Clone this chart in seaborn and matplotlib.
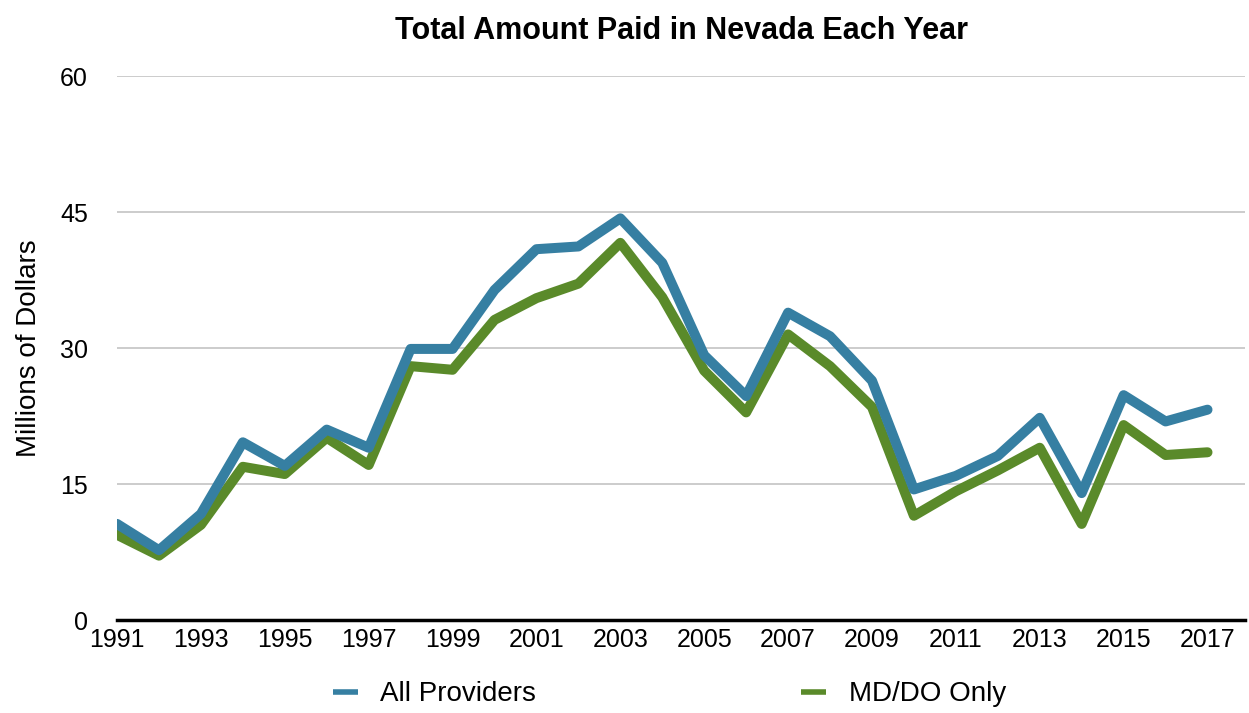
import pandas as pd
import numpy as np
import matplotlib
matplotlib.use("Agg")
import matplotlib.pyplot as plt
import seaborn as sns

years = list(range(1991, 2018))
all_providers = [10.6, 7.7, 11.7, 19.6, 17.0, 21.0, 19.0, 29.9, 29.9, 36.4,
                 40.9, 41.2, 44.3, 39.4, 29.2, 24.7, 33.9, 31.3, 26.4, 14.4,
                 15.9, 18.1, 22.3, 14.0, 24.8, 21.9, 23.2]
md_do_only = [9.4, 7.1, 10.5, 16.9, 16.1, 20.1, 17.1, 28.0, 27.6, 33.1,
              35.5, 37.1, 41.6, 35.6, 27.5, 22.9, 31.5, 28.0, 23.5, 11.5,
              14.2, 16.5, 19.0, 10.6, 21.5, 18.2, 18.5]
series_names = ["All Providers", "MD/DO Only"]
colors = {"All Providers": "#367fa2", "MD/DO Only": "#5a8a2a"}

df = pd.DataFrame({"year": years, "All Providers": all_providers, "MD/DO Only": md_do_only})
long = df.melt(id_vars="year", var_name="series", value_name="amount")

sns.set_style("white")
plt.rcParams["font.family"] = ["Liberation Sans", "DejaVu Sans"]
plt.rcParams["text.color"] = "black"
plt.rcParams["xtick.color"] = "black"
plt.rcParams["ytick.color"] = "black"
plt.rcParams["axes.labelcolor"] = "black"

fig = plt.figure(figsize=(12.49, 7.13), dpi=100)
ax = fig.add_axes([0.0937, 0.1304, 0.9033, 0.763])

# green first so blue sits on top
for name, z in [("MD/DO Only", 3), ("All Providers", 4)]:
    sns.lineplot(data=long[long.series == name], x="year", y="amount",
                 color=colors[name], linewidth=7.2, ax=ax, zorder=z,
                 label=name, legend=False)

ax.set_xlim(1991, 2017.9)
ax.set_ylim(0, 60)
ax.set_yticks([0, 15, 30, 45, 60])
ax.set_xticks(years[::2])
ax.yaxis.grid(True, color="#c4c4c4", linewidth=1.2)
ax.xaxis.grid(False)
for s in ["top", "right", "left"]:
    ax.spines[s].set_visible(False)
ax.spines["bottom"].set_color("black")
ax.spines["bottom"].set_linewidth(2.5)
ax.spines["bottom"].set_zorder(5)
ax.tick_params(axis="y", length=0, pad=21, labelsize=18)
ax.tick_params(axis="x", length=0, pad=6, labelsize=18)
ax.set_xlabel("")
ax.set_ylabel("Millions of Dollars", fontsize=20, labelpad=13)
ax.set_title("Total Amount Paid in Nevada Each Year", fontsize=22,
             fontweight="bold", pad=27)

handles = [plt.Line2D([], [], color=colors[n], linewidth=4, solid_capstyle="butt")
           for n in series_names]
fig.legend(handles, series_names, loc="center", bbox_to_anchor=(0.536, 0.026),
           ncol=2, frameon=False, fontsize=20, handlelength=0.9,
           handletextpad=0.8, columnspacing=9.55)

fig.savefig("out.png", dpi=100)
